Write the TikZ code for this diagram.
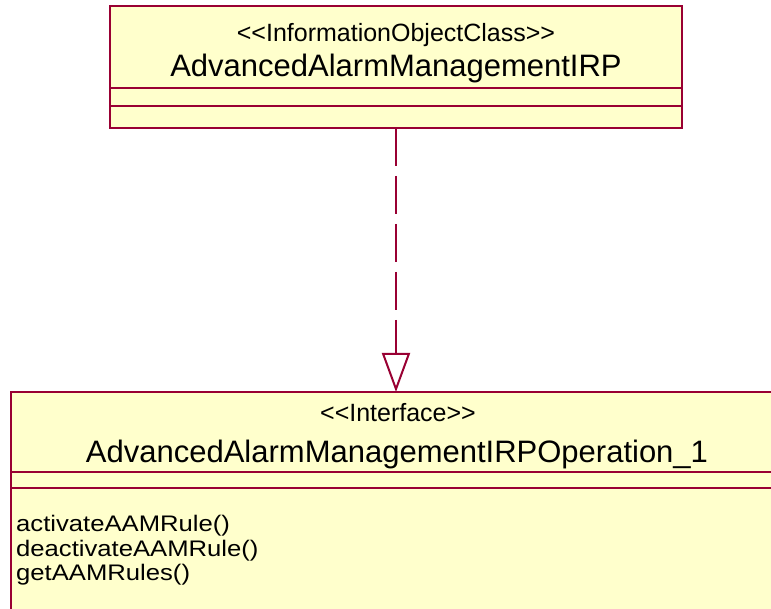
\documentclass[tikz,border=0pt]{standalone}
\usepackage{fontspec}
\setmainfont{Liberation Sans}
\newfontfamily\opfont[FakeStretch=1.14]{Liberation Sans}
\usetikzlibrary{arrows.meta}
\definecolor{umlborder}{RGB}{153,0,51}
\definecolor{umlfill}{RGB}{255,255,204}
\begin{document}
\begin{tikzpicture}[x=1pt,y=-1pt,
 classbox/.style={draw=umlborder, fill=umlfill, line width=2pt, rectangle, inner sep=0pt, outer sep=0pt, anchor=north west},
 sepline/.style={draw=umlborder, line width=2pt},
 stereo/.style={font=\fontsize{25}{30}\selectfont, anchor=base, inner sep=0pt},
 cname/.style={font=\fontsize{31}{36}\selectfont, anchor=base, inner sep=0pt},
 opline/.style={font=\opfont\fontsize{22.5}{24}\selectfont, anchor=base west, inner sep=0pt},
 realization/.style={draw=umlborder, line width=2pt, dash pattern=on 38pt off 10pt, -{Triangle[open, length=39pt, width=28pt, fill=white]}}
]
\clip (0,0) rectangle (771,609);
\fill[white] (0,0) rectangle (771,609);
% top class
\node[classbox, minimum width=572pt, minimum height=122pt] (irp) at (110,6) {};
\draw[sepline] (110,88) -- (682,88);
\draw[sepline] (110,106) -- (682,106);
\node[stereo] (irpst) at (396,42) {<\kern0pt<InformationObjectClass>\kern0pt>};
\node[cname] (irpname) at (396,77) {AdvancedAlarmManagementIRP};
% bottom interface
\node[classbox, minimum width=774pt, minimum height=240pt] (ifc) at (11,392) {};
\draw[sepline] (11,472) -- (785,472);
\draw[sepline] (11,488) -- (785,488);
\node[stereo] (ifcst) at (398,421) {<\kern0pt<Interface>\kern0pt>};
\node[cname] (ifcname) at (397,462) {AdvancedAlarmManagementIRPOperation\_1};
\node[opline] (op1) at (16,531) {activateAAMRule()};
\node[opline] (op2) at (16,556) {deactivateAAMRule()};
\node[opline] (op3) at (16,580) {getAAMRules()};
% realization
\draw[realization] (irp.south) -- (irp.south |- ifc.north);
\end{tikzpicture}
\end{document}
